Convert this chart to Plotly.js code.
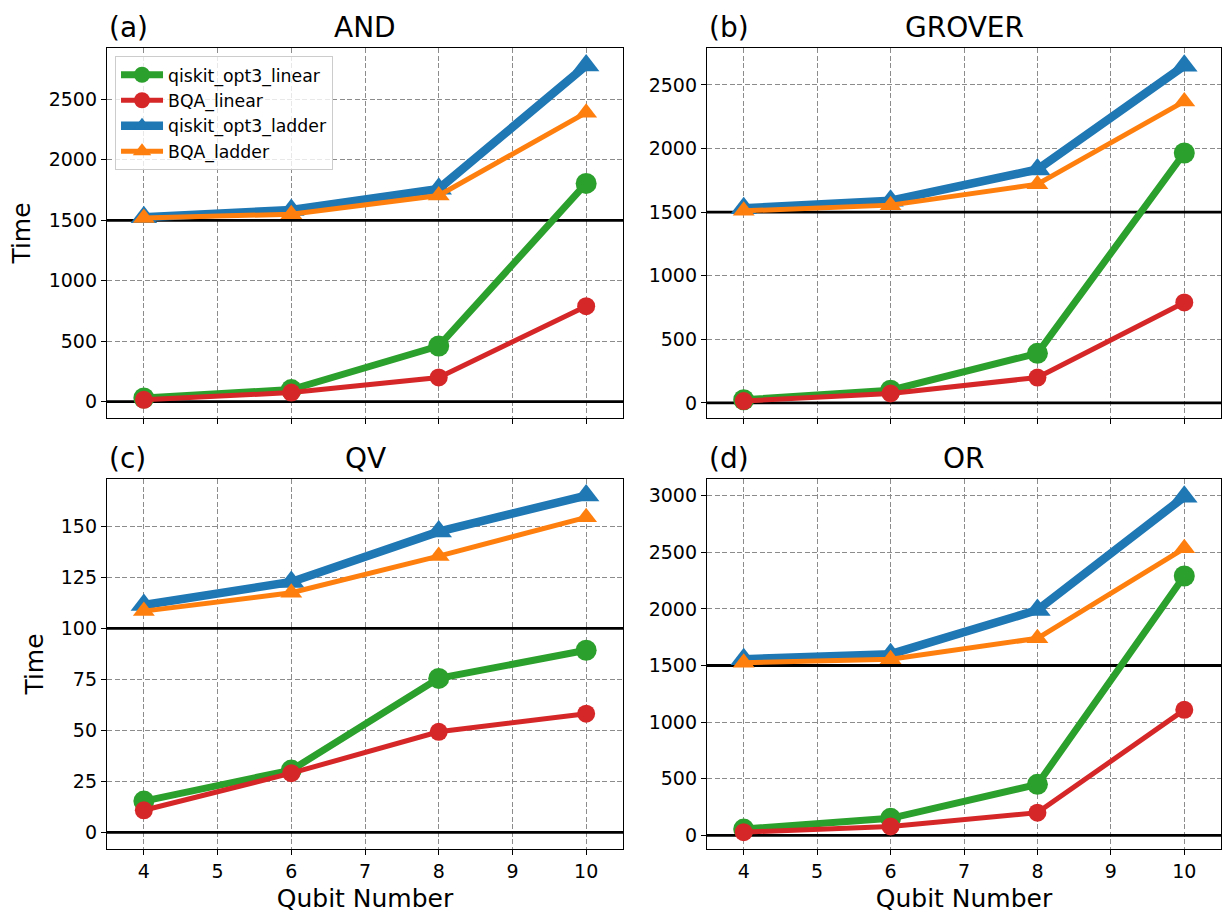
<!DOCTYPE html>
<html><head><meta charset="utf-8">
<script src="https://cdn.plot.ly/plotly-3.0.1.min.js"></script>
<style>html,body{margin:0;padding:0;background:#fff}</style>
</head><body><div id="chart" style="width:1222px;height:915px"></div>
<script>
// ---------------- data ----------------
const qubits = [4, 6, 8, 10];
const seriesNames = ['qiskit_opt3_linear', 'BQA_linear', 'qiskit_opt3_ladder', 'BQA_ladder'];
const panelTitles = ['AND', 'GROVER', 'QV', 'OR'];
const panelLabels = ['(a)', '(b)', '(c)', '(d)'];

const andQiskitLinear  = [30, 100, 460, 1805];
const andBqaLinear     = [15, 75, 200, 790];
const andQiskitLadder  = [1525, 1585, 1760, 2780];
const andBqaLadder     = [1520, 1550, 1705, 2390];

const groverQiskitLinear = [25, 100, 390, 1965];
const groverBqaLinear    = [15, 75, 200, 790];
const groverQiskitLadder = [1530, 1590, 1835, 2650];
const groverBqaLadder    = [1510, 1555, 1720, 2370];

const qvQiskitLinear = [15.3, 30.5, 75.5, 89.3];
const qvBqaLinear    = [10.8, 29, 49.3, 58.2];
const qvQiskitLadder = [111.5, 122.8, 147.5, 165.2];
const qvBqaLadder    = [108.5, 117.5, 135.5, 154.5];

const orQiskitLinear = [55, 150, 450, 2290];
const orBqaLinear    = [28, 78, 200, 1108];
const orQiskitLadder = [1555, 1600, 1990, 2990];
const orBqaLadder    = [1525, 1555, 1740, 2535];

const xTickVals = [4, 5, 6, 7, 8, 9, 10];
const yTicksAND    = [0, 500, 1000, 1500, 2000, 2500];
const yTicksGROVER = [0, 500, 1000, 1500, 2000, 2500];
const yTicksQV     = [0, 25, 50, 75, 100, 125, 150];
const yTicksOR     = [0, 500, 1000, 1500, 2000, 2500, 3000];

const refLinesAND    = [0, 1500];
const refLinesGROVER = [0, 1500];
const refLinesQV     = [0, 100];
const refLinesOR     = [0, 1500];

// ---------------- styling / layout ----------------
const panelData = [
  [andQiskitLinear, andBqaLinear, andQiskitLadder, andBqaLadder],
  [groverQiskitLinear, groverBqaLinear, groverQiskitLadder, groverBqaLadder],
  [qvQiskitLinear, qvBqaLinear, qvQiskitLadder, qvBqaLadder],
  [orQiskitLinear, orBqaLinear, orQiskitLadder, orBqaLadder]
];
const panelYTicks = [yTicksAND, yTicksGROVER, yTicksQV, yTicksOR];
const panelRefLines = [refLinesAND, refLinesGROVER, refLinesQV, refLinesOR];
const xRange = [3.5, 10.5];
const panelYRange = [[-135, 2925], [-118, 2790], [-8.2, 173.3], [-121, 3147]];

const styles = [
  {color: '#2ca02c', width: 7, symbol: 'circle', size: 21},
  {color: '#d62728', width: 5, symbol: 'circle', size: 18},
  {color: '#1f77b4', width: 8.5, symbol: 'triangle-up', size: 23},
  {color: '#ff7f0e', width: 5, symbol: 'triangle-up', size: 19}
];

const FONT = 'DejaVu Sans, Arial, sans-serif';
const xDomains = [[0, 0.4632], [0.5386, 1], [0, 0.4632], [0.5386, 1]];
const yDomains = [[0.5381, 1], [0.5381, 1], [0, 0.4619], [0, 0.4619]];

const traces = [];
const annotations = [];
const layout = {
  width: 1222, height: 915,
  margin: {l: 107, r: 1, t: 48, b: 66},
  paper_bgcolor: '#ffffff', plot_bgcolor: '#ffffff',
  font: {family: FONT, color: '#000', size: 19},
  showlegend: true,
  legend: {
    x: 0.0072, y: 0.99, xanchor: 'left', yanchor: 'top',
    bgcolor: 'rgba(255,255,255,0.8)', bordercolor: '#cccccc', borderwidth: 1,
    font: {family: FONT, size: 17.3, color: '#000'},
    itemsizing: 'trace', itemwidth: 42, tracegroupgap: 0,
    traceorder: 'normal'
  }
};

for (let p = 0; p < 4; p++) {
  const sfx = p === 0 ? '' : String(p + 1);
  const xa = 'x' + sfx, ya = 'y' + sfx;
  // reference horizontal lines (drawn first: above grid, below series)
  panelRefLines[p].forEach(v => {
    traces.push({
      type: 'scatter', mode: 'lines',
      x: xRange, y: [v, v],
      xaxis: xa, yaxis: ya,
      showlegend: false, hoverinfo: 'skip', cliponaxis: true,
      line: {color: '#000', width: 2.8}
    });
  });
  for (let s = 0; s < 4; s++) {
    const st = styles[s];
    traces.push({
      type: 'scatter', mode: 'lines+markers',
      x: qubits, y: panelData[p][s],
      xaxis: xa, yaxis: ya,
      name: seriesNames[s],
      showlegend: p === 0,
      line: {color: st.color, width: st.width},
      marker: {color: st.color, symbol: st.symbol, size: st.size, line: {width: 0}},
      hoverinfo: 'x+y+name'
    });
  }
  const bottomRow = p >= 2, leftCol = (p % 2) === 0;
  layout['xaxis' + sfx] = {
    domain: xDomains[p], anchor: ya, range: xRange,
    tickmode: 'array', tickvals: xTickVals, ticktext: xTickVals.map(String),
    showticklabels: bottomRow,
    ticks: 'outside', ticklen: 5, tickwidth: 1, tickcolor: '#000',
    showline: true, mirror: true, linecolor: '#000', linewidth: 1.2,
    showgrid: true, gridcolor: '#8c8c8c', gridwidth: 1, griddash: '5px,2.5px',
    zeroline: false,
    tickfont: {family: FONT, size: 19, color: '#000'},
    title: bottomRow ? {text: 'Qubit Number', font: {family: FONT, size: 25, color: '#000'}, standoff: 8} : {text: ''}
  };
  layout['yaxis' + sfx] = {
    domain: yDomains[p], anchor: xa, range: panelYRange[p],
    tickmode: 'array', tickvals: panelYTicks[p], ticktext: panelYTicks[p].map(String),
    ticks: 'outside', ticklen: 5, tickwidth: 1, tickcolor: '#000',
    showline: true, mirror: true, linecolor: '#000', linewidth: 1.2,
    showgrid: true, gridcolor: '#8c8c8c', gridwidth: 1, griddash: '5px,2.5px',
    zeroline: false,
    tickfont: {family: FONT, size: 19, color: '#000'},
    title: leftCol ? {text: 'Time', font: {family: FONT, size: 25, color: '#000'}, standoff: 10} : {text: ''}
  };
  const dom = xDomains[p], ytop = yDomains[p][1];
  annotations.push({
    xref: 'paper', yref: 'paper', x: dom[0], y: ytop,
    xanchor: 'left', yanchor: 'bottom', yshift: 2, showarrow: false,
    text: panelLabels[p], font: {family: FONT, size: 28, color: '#000'}
  });
  annotations.push({
    xref: 'paper', yref: 'paper', x: (dom[0] + dom[1]) / 2, y: ytop,
    xanchor: 'center', yanchor: 'bottom', yshift: 2, showarrow: false,
    text: panelTitles[p], font: {family: FONT, size: 28, color: '#000'}
  });
}
layout.annotations = annotations;

Plotly.newPlot('chart', traces, layout, {displayModeBar: false, staticPlot: true});
</script>
</body></html>
